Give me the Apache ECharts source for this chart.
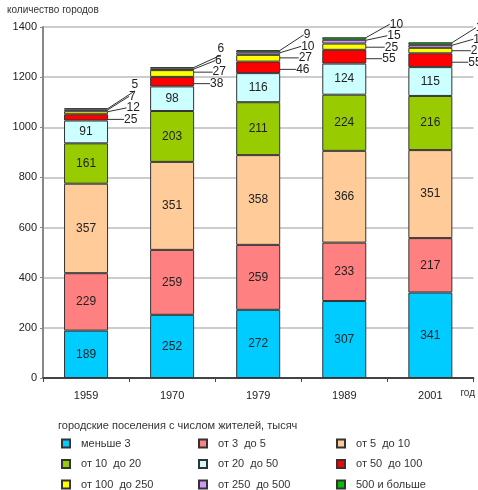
<!DOCTYPE html>
<html>
<head>
<meta charset="utf-8">
<script src="https://cdn.jsdelivr.net/npm/echarts@6/dist/echarts.min.js"></script>
<style>
  html, body { margin: 0; padding: 0; background: #fff; }
  #chart { width: 478px; height: 490px; }
</style>
</head>
<body>
<div id="chart"></div>
<script>
// Census years
const years = ['1959', '1970', '1979', '1989', '2001'];

// Number of urban settlements by population size (thousands of residents)
const less3       = [189, 252, 272, 307, 341];
const from3to5    = [229, 259, 259, 233, 217];
const from5to10   = [357, 351, 358, 366, 351];
const from10to20  = [161, 203, 211, 224, 216];
const from20to50  = [91, 98, 116, 124, 115];
const from50to100 = [25, 38, 46, 55, 55];
const from100to250 = [12, 27, 27, 25, 22];
const from250to500 = [7, 6, 10, 15, 12];
const from500     = [5, 6, 9, 10, 10];

const groupNames = [
  'меньше 3', 'от 3  до 5', 'от 5  до 10',
  'от 10  до 20', 'от 20  до 50', 'от 50  до 100',
  'от 100  до 250', 'от 250  до 500', '500 и больше'
];
const groupValues = [less3, from3to5, from5to10, from10to20, from20to50,
  from50to100, from100to250, from250to500, from500];
const groupColors = ['#00CCFF', '#FF8080', '#FFCC99', '#99CC00', '#CCFFFF',
  '#FF0000', '#FFFF00', '#CC99FF', '#00C000'];

// Y-axis ticks
const yTicks = [0, 200, 400, 600, 800, 1000, 1200, 1400];

const FONT = '"Liberation Sans", Arial, sans-serif';
const FIRST_SMALL = 5; // thin top segments get callout labels

function calloutLayout(params) {
  const si = params.seriesIndex;
  const di = params.dataIndex;
  const r = params.rect;
  const v = groupValues[si][di];
  const s = r.height / v; // pixels per unit
  let below = 0;
  for (let k = FIRST_SMALL; k < si; k++) below += groupValues[k][di];
  const redBottom = r.y + r.height + below * s;
  const redCenter = redBottom - groupValues[FIRST_SMALL][di] * s / 2;
  const step = si - FIRST_SMALL;
  return {
    x: r.x + r.width + 16 + step * 2.5,
    y: redCenter + 2 - step * 11.5,
    align: 'left',
    verticalAlign: 'middle'
  };
}

const series = groupNames.map((name, i) => {
  const small = i >= FIRST_SMALL;
  const s = {
    name: name,
    type: 'bar',
    stack: 'total',
    barWidth: 44,
    data: groupValues[i],
    itemStyle: { color: groupColors[i], borderColor: '#333', borderWidth: 1 },
    emphasis: { disabled: true },
    label: {
      show: true,
      position: small ? 'right' : 'inside',
      color: '#222',
      fontSize: 12,
      fontFamily: FONT
    }
  };
  if (small) {
    s.labelLine = { show: true, lineStyle: { color: '#333', width: 1 } };
    s.labelLayout = calloutLayout;
  }
  return s;
});

const chart = echarts.init(document.getElementById('chart'), null, { renderer: 'canvas' });

chart.setOption({
  animation: false,
  backgroundColor: '#fff',
  textStyle: { fontFamily: FONT },
  title: [
    {
      text: 'количество городов',
      left: 2, top: 0,
      textStyle: { fontSize: 10, fontWeight: 'normal', color: '#333', fontFamily: FONT }
    },
    {
      text: 'городские поселения с числом жителей, тысяч',
      left: 58, top: 420, padding: 0,
      textStyle: { fontSize: 11, fontWeight: 'normal', color: '#333', fontFamily: FONT }
    }
  ],
  grid: { left: 43, right: 3, top: 27, bottom: 112, containLabel: false },
  xAxis: {
    type: 'category',
    data: years,
    name: 'год',
    nameLocation: 'end',
    nameGap: -13,
    nameTextStyle: { fontSize: 10, color: '#333', align: 'left', verticalAlign: 'top', padding: [10, 0, 0, 0] },
    axisLine: { lineStyle: { color: '#444', width: 2 } },
    axisTick: { show: true, alignWithLabel: false, length: 4, lineStyle: { color: '#444' } },
    axisLabel: { color: '#222', fontSize: 11, margin: 12 }
  },
  yAxis: {
    type: 'value',
    min: yTicks[0],
    max: yTicks[yTicks.length - 1],
    interval: yTicks[1] - yTicks[0],
    axisLine: { show: true, lineStyle: { color: '#888', width: 2 } },
    axisTick: { show: true, length: 3, lineStyle: { color: '#888' } },
    axisLabel: { color: '#222', fontSize: 11, margin: 6, formatter: v => String(v) },
    splitLine: { show: true, lineStyle: { color: '#cccccc', width: 2 } }
  },
  legend: [0, 1, 2].map(col => ({
    orient: 'vertical',
    left: [61, 198, 336][col],
    top: 438,
    width: 130,
    height: 60,
    padding: 0,
    itemWidth: 8,
    itemHeight: 8,
    itemGap: 9.5,
    icon: 'rect',
    selectedMode: false,
    data: [groupNames[col], groupNames[col + 3], groupNames[col + 6]],
    textStyle: { fontSize: 11, color: '#333', fontFamily: FONT, padding: [0, 0, 0, 6] }
  })),
  series: series
});
</script>
</body>
</html>
